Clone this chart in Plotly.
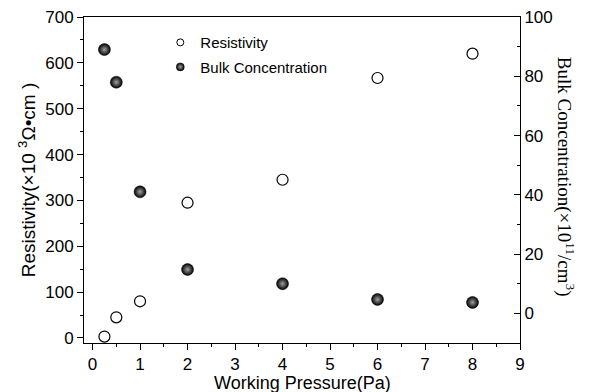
import plotly.graph_objects as go

pressure = [0.25, 0.5, 1, 2, 4, 6, 8]
resistivity = [3, 45, 80, 295, 345, 567, 620]
bulk_conc = [89, 78, 41, 14.8, 10, 4.7, 3.7]

fig = go.Figure()

sphere = dict(symbol="circle", color="black",
              gradient=dict(type="radial", color="#a0a0a0"),
              line=dict(width=0.5, color="black"))

fig.add_trace(go.Scatter(
    x=pressure, y=resistivity, mode="markers", name="Resistivity",
    marker=dict(symbol="circle-open", size=11, color="black", line=dict(width=1.2)),
    showlegend=False, yaxis="y", cliponaxis=False))
fig.add_trace(go.Scatter(
    x=pressure, y=bulk_conc, mode="markers", name="Bulk Concentration",
    marker=dict(size=12, **sphere),
    showlegend=False, yaxis="y2", cliponaxis=False))

# legend entries
fig.add_trace(go.Scatter(
    x=[None], y=[None], mode="markers", name="Resistivity", legendgroup="a",
    marker=dict(symbol="circle-open", size=7, color="black", line=dict(width=1))))
fig.add_trace(go.Scatter(
    x=[None], y=[None], mode="markers", name="Bulk Concentration", legendgroup="b",
    marker=dict(size=8, **sphere)))

axis_common = dict(showline=True, linecolor="black", linewidth=1, automargin=False,
                   ticklen=6, tickcolor="black", showgrid=False, zeroline=False,
                   tickfont=dict(family="Arial", size=17, color="black"))

fig.update_layout(
    width=598, height=392,
    margin=dict(l=84, r=78, t=17, b=49),
    plot_bgcolor="white", paper_bgcolor="white",
    font=dict(family="Arial", color="black"),
    xaxis=dict(range=[-0.18, 9], dtick=1, tick0=0, mirror=True, ticks="outside",
               minor=dict(dtick=0.5, ticks="outside", ticklen=3, tickcolor="black"),
               **axis_common),
    yaxis=dict(range=[-11, 700], dtick=100, tick0=0, ticks="outside",
               minor=dict(dtick=50, ticks="outside", ticklen=3, tickcolor="black"),
               title=dict(text="Resistivity(×10 <sup>3</sup>Ω•cm )", font=dict(size=19), standoff=4),
               **axis_common),
    yaxis2=dict(range=[-10, 100], dtick=20, tick0=0, overlaying="y", side="right",
                ticks="inside",
                minor=dict(dtick=10, ticks="inside", ticklen=3, tickcolor="black"),
                **axis_common),
    legend=dict(x=0.175, y=0.972, xanchor="left", yanchor="top",
                font=dict(family="Arial", size=15, color="black"),
                bgcolor="rgba(0,0,0,0)", traceorder="grouped", tracegroupgap=2),
    annotations=[
        dict(text="Working Pressure(Pa)", xref="paper", yref="paper",
             x=0.5, y=-0.122, xanchor="center", yanchor="middle", showarrow=False,
             font=dict(family="Arial", size=18, color="black")),
        dict(text="Bulk Concentration(×10<sup>11</sup>/cm<sup>3</sup>)",
             xref="paper", yref="paper", x=1.106, y=0.509, textangle=90,
             showarrow=False, xanchor="center", yanchor="middle",
             font=dict(family="Liberation Serif", size=19, color="black"))],
)

fig.write_html("out.html")
